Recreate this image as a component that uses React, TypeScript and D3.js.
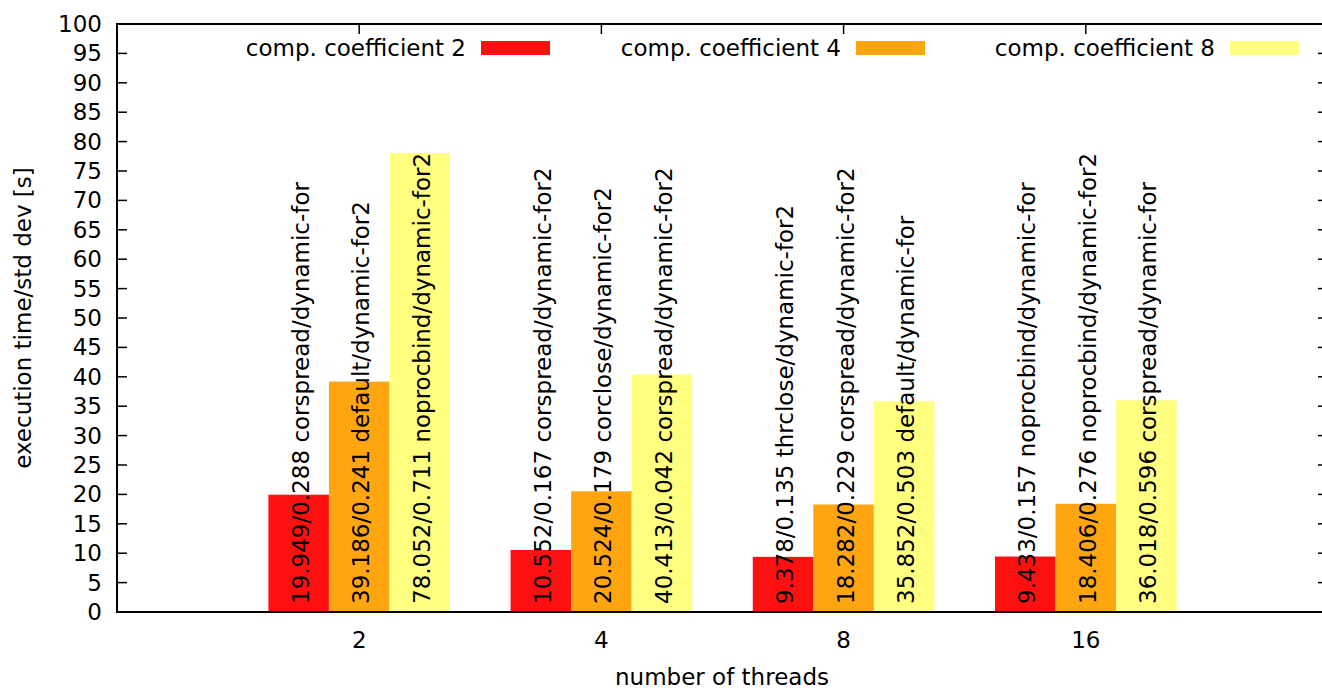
import React from "react";
import * as d3 from "d3";

// Thread counts on the x axis
const threadCounts: string[] = ["2", "4", "8", "16"];

// Series: compression coefficients
const seriesNames: string[] = [
  "comp. coefficient 2",
  "comp. coefficient 4",
  "comp. coefficient 8",
];
const seriesColors: string[] = ["#ff1010", "#ffa510", "#ffff80"];

// Mean execution time per thread count, one array per coefficient
const coef2Times: number[] = [19.949, 10.552, 9.378, 9.433];
const coef4Times: number[] = [39.186, 20.524, 18.282, 18.406];
const coef8Times: number[] = [78.052, 40.413, 35.852, 36.018];

// Standard deviations
const coef2Dev: string[] = ["0.288", "0.167", "0.135", "0.157"];
const coef4Dev: string[] = ["0.241", "0.179", "0.229", "0.276"];
const coef8Dev: string[] = ["0.711", "0.042", "0.503", "0.596"];

// Best configuration for each bar
const coef2Config: string[] = [
  "corspread/dynamic-for",
  "corspread/dynamic-for2",
  "thrclose/dynamic-for2",
  "noprocbind/dynamic-for",
];
const coef4Config: string[] = [
  "default/dynamic-for2",
  "corclose/dynamic-for2",
  "corspread/dynamic-for2",
  "noprocbind/dynamic-for2",
];
const coef8Config: string[] = [
  "noprocbind/dynamic-for2",
  "corspread/dynamic-for2",
  "default/dynamic-for",
  "corspread/dynamic-for",
];

const yTicks: number[] = d3.range(0, 101, 5);

const W = 1322;
const H = 688;
const FONT = "'DejaVu Sans', sans-serif";
const FS = 23;

export default function App() {
  const left = 117;
  const right = 1328;
  const top = 24;
  const bottom = 612;

  const x = d3.scaleLinear().domain([-1, threadCounts.length]).range([left, right]);
  const y = d3.scaleLinear().domain([0, 100]).range([bottom, top]);

  const times = [coef2Times, coef4Times, coef8Times];
  const devs = [coef2Dev, coef4Dev, coef8Dev];
  const configs = [coef2Config, coef4Config, coef8Config];

  const barW = 0.25;
  const tickLen = 10;

  const bars: React.ReactNode[] = [];
  const labels: React.ReactNode[] = [];
  threadCounts.forEach((_, i) => {
    times.forEach((series, s) => {
      const x0 = x(i - 0.375 + s * barW);
      const x1 = x(i - 0.375 + (s + 1) * barW);
      const v = series[i];
      bars.push(
        <rect
          key={`b${s}-${i}`}
          x={x0}
          y={y(v)}
          width={x1 - x0}
          height={y(0) - y(v)}
          fill={seriesColors[s]}
        />
      );
      const cx = (x0 + x1) / 2 + 10;
      const cy = y(0) - 8;
      labels.push(
        <text
          key={`l${s}-${i}`}
          transform={`translate(${cx},${cy}) rotate(-90)`}
          fontSize={FS}
          fill="#000"
        >
          {`${v.toFixed(3)}/${devs[s][i]} ${configs[s][i]}`}
        </text>
      );
    });
  });

  const legendSwatchX = [481, 856, 1230];

  return (
    <svg
      width={W}
      height={H}
      style={{ position: "absolute", left: 0, top: 0, background: "#fff" }}
      fontFamily={FONT}
    >
      <rect x={0} y={0} width={W} height={H} fill="#fff" />

      {/* bars */}
      {bars}

      {/* y ticks (left and mirrored right) */}
      {yTicks.map((t) => (
        <g key={`yt${t}`}>
          {t > 0 && t < 100 && (
            <>
              <line x1={left} x2={left + tickLen} y1={y(t)} y2={y(t)} stroke="#000" strokeWidth={1.5} />
              <line x1={right - tickLen} x2={right} y1={y(t)} y2={y(t)} stroke="#000" strokeWidth={1.5} />
            </>
          )}
          <text x={102} y={y(t) + 8} textAnchor="end" fontSize={FS} fill="#000">
            {t}
          </text>
        </g>
      ))}

      {/* x ticks, mirrored at the top */}
      {threadCounts.map((c, i) => (
        <g key={`xt${c}`}>
          <line x1={x(i)} x2={x(i)} y1={top} y2={top + tickLen} stroke="#000" strokeWidth={1.5} />
          <text x={x(i)} y={648} textAnchor="middle" fontSize={FS} fill="#000">
            {c}
          </text>
        </g>
      ))}

      {/* bar value labels */}
      {labels}

      {/* border */}
      <path
        d={`M${right},${top}H${left}V${bottom}H${right}`}
        fill="none"
        stroke="#000"
        strokeWidth={2}
      />

      {/* legend */}
      {seriesNames.map((n, s) => (
        <g key={`lg${s}`}>
          <text x={legendSwatchX[s] - 15} y={56} textAnchor="end" fontSize={FS} fill="#000">
            {n}
          </text>
          <rect x={legendSwatchX[s]} y={41} width={69} height={14} fill={seriesColors[s]} />
        </g>
      ))}

      {/* axis titles */}
      <text
        transform={`translate(31,${(top + bottom) / 2}) rotate(-90)`}
        textAnchor="middle"
        fontSize={FS}
        fill="#000"
      >
        execution time/std dev [s]
      </text>
      <text x={722} y={685} textAnchor="middle" fontSize={FS} fill="#000">
        number of threads
      </text>
    </svg>
  );
}
